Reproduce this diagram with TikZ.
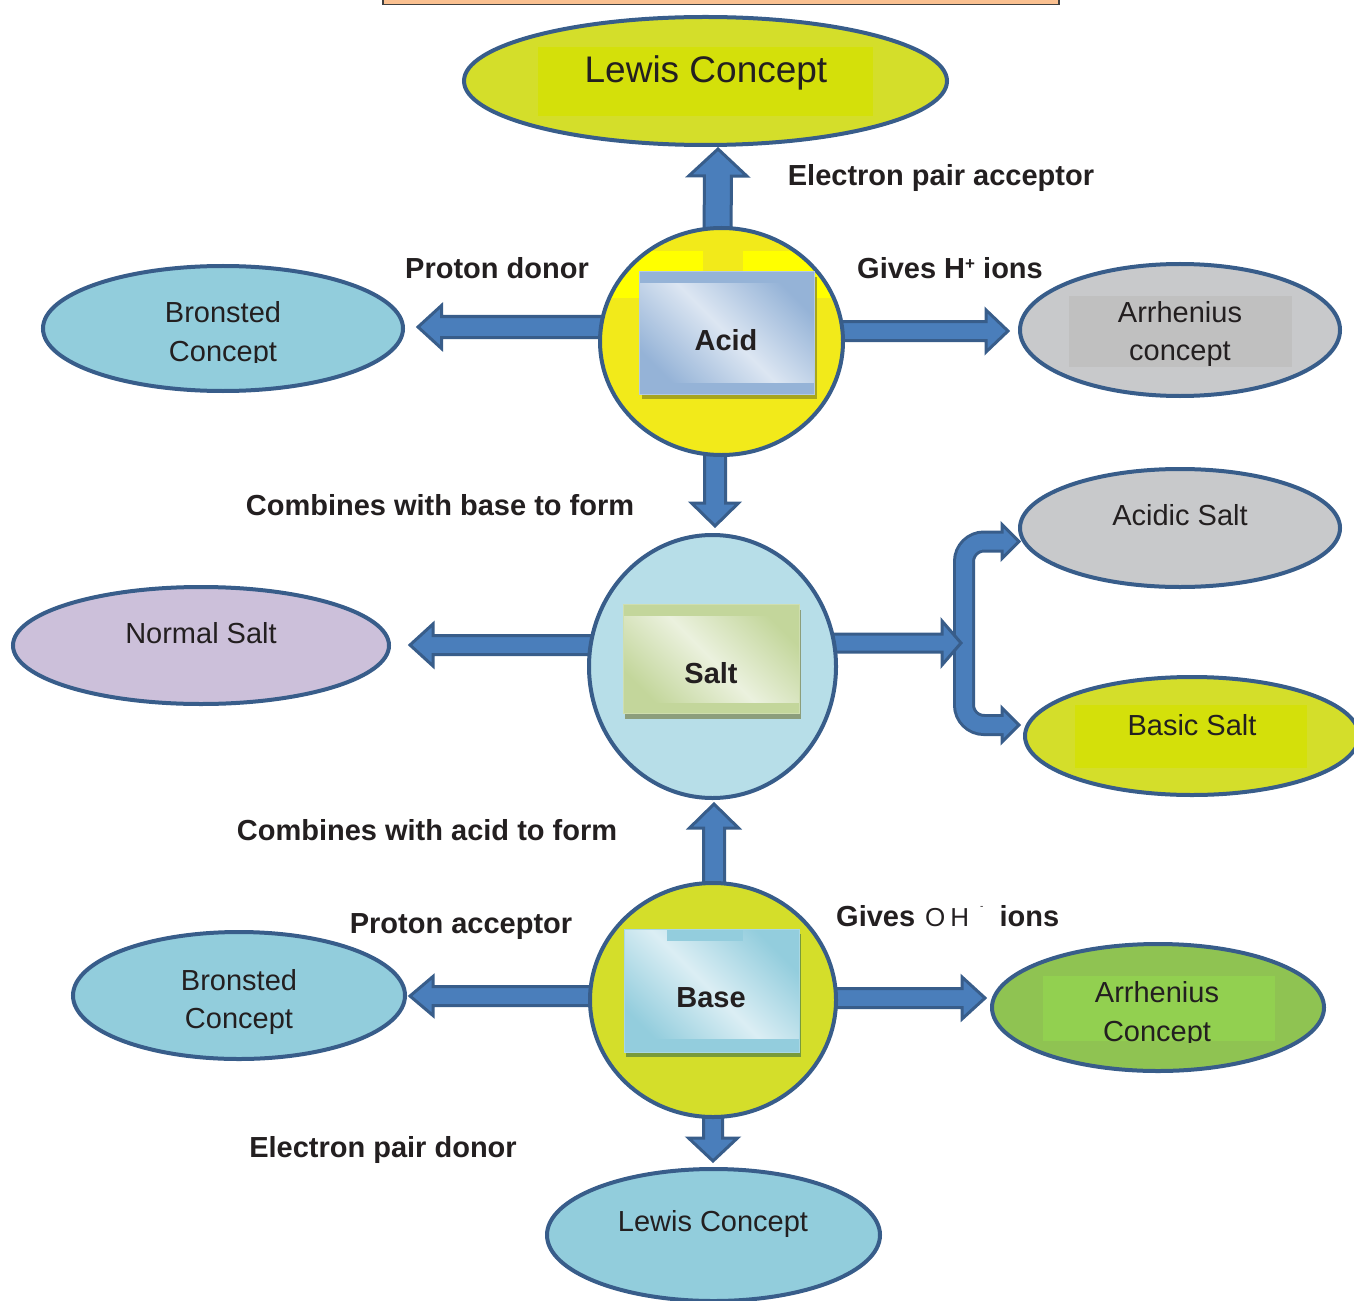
\documentclass[tikz,border=0pt]{standalone}
\usepackage{fontspec}
\setmainfont{Liberation Sans}
\usetikzlibrary{shapes.geometric,calc,shadows}
\pgfdeclarelayer{connectors}
\pgfsetlayers{connectors,main}

% outlines, arrows, text
\definecolor{rim}{HTML}{385D8A}
\definecolor{shaft}{HTML}{4A7EBB}
\definecolor{ink}{HTML}{231F20}
\definecolor{banner}{HTML}{FAC090}
% fills
\definecolor{lime}{HTML}{D4DE2A}
\definecolor{limeHi}{HTML}{D4E00A}
\definecolor{sun}{HTML}{F2EA1A}
\definecolor{sunHi}{HTML}{FFFF00}
\definecolor{sky}{HTML}{92CDDC}
\definecolor{ice}{HTML}{B7DEE8}
\definecolor{fog}{HTML}{C8C9CB}
\definecolor{fogLo}{HTML}{C0C0C0}
\definecolor{lilac}{HTML}{CCC0DA}
\definecolor{leaf}{HTML}{8FC352}
\definecolor{leafHi}{HTML}{92D050}
% inner cards
\definecolor{acidDk}{HTML}{95B3D7}
\definecolor{acidLt}{HTML}{DCE6F2}
\definecolor{acidSh}{HTML}{A8A51C}
\definecolor{saltDk}{HTML}{C3D69B}
\definecolor{saltLt}{HTML}{EBF1DE}
\definecolor{saltSh}{HTML}{8C9E7C}
\definecolor{baseDk}{HTML}{93CDDD}
\definecolor{baseLt}{HTML}{DBEEF4}
\definecolor{baseSh}{HTML}{789A3A}

% block arrow: start, tip, shaft half width, head half width, head length
\newcommand\blockarrow[5]{%
  \coordinate (ba-s) at (#1);
  \coordinate (ba-t) at (#2);
  \coordinate (ba-h) at ($(ba-t)!#5!(ba-s)$);
  \filldraw[arrowbody]
    ($(ba-s)!#3!90:(ba-t)$) -- ($(ba-h)!#3!90:(ba-t)$) -- ($(ba-h)!#4!90:(ba-t)$)
    -- (ba-t) -- ($(ba-h)!#4!-90:(ba-t)$) -- ($(ba-h)!#3!-90:(ba-t)$)
    -- ($(ba-s)!#3!-90:(ba-t)$) -- cycle;
}

\begin{document}
\begin{tikzpicture}[x=1bp,y=-1bp,
  oval/.style={ellipse, draw=rim, line width=4bp, inner sep=0pt},
  txt/.style={font=\fontsize{29bp}{35bp}\selectfont, text=ink, inner sep=0pt, anchor=base},
  tag/.style={txt, font=\fontsize{29bp}{35bp}\selectfont\bfseries},
  arrowbody/.style={fill=shaft, draw=rim, line width=3bp, line join=miter},
  card/.style={rectangle, inner sep=0pt, line width=1bp},
]
\useasboundingbox (0,0) rectangle (1354,1301);

% title strip at the top edge
\filldraw[fill=banner, draw=black!75, line width=1.5bp] (383,-10) rectangle (1059,4.5);
\coordinate (bannerEdge) at (721,4.5);

% ---- ovals ----
\node[oval, fill=lime, minimum width=483bp, minimum height=128bp,
  path picture={\fill[limeHi] ([shift={(-167.5,-34)}]path picture bounding box.center)
    rectangle ([shift={(167.5,35)}]path picture bounding box.center);}]
  (lewisTop) at (705.5,81) {};
\node[oval, fill=sky, minimum width=360bp, minimum height=125bp] (bronTop) at (223,328.5) {};
\node[oval, fill=fog, minimum width=320bp, minimum height=132bp,
  path picture={\fill[fogLo] ([shift={(-111,-34)}]path picture bounding box.center)
    rectangle ([shift={(112,37)}]path picture bounding box.center);}]
  (arrTop) at (1180,330) {};
\node[oval, fill=lilac, minimum width=376bp, minimum height=117bp] (normal) at (201,645.5) {};
\node[oval, fill=fog, minimum width=320bp, minimum height=118bp] (acidic) at (1180,528) {};
\node[oval, fill=lime, minimum width=334bp, minimum height=118bp,
  path picture={\fill[limeHi] ([shift={(-117,-31)}]path picture bounding box.center)
    rectangle ([shift={(115,32)}]path picture bounding box.center);}]
  (basic) at (1192,736) {};
\node[oval, fill=sky, minimum width=332bp, minimum height=127bp] (bronBot) at (239,995.5) {};
\node[oval, fill=leaf, minimum width=332bp, minimum height=127bp,
  path picture={\fill[leafHi] ([shift={(-115,-32)}]path picture bounding box.center)
    rectangle ([shift={(117,33)}]path picture bounding box.center);}]
  (arrBot) at (1158,1007.5) {};
\node[oval, fill=sky, minimum width=333bp, minimum height=132bp] (lewisBot) at (713.5,1235) {};

% ---- central circles ----
\node[oval, fill=sun, minimum width=243bp, minimum height=227bp,
  path picture={
    \fill[sunHi] ([shift={(-122,-90.5)}]path picture bounding box.center)
      rectangle ([shift={(-18.5,-43.5)}]path picture bounding box.center);
    \fill[sunHi] ([shift={(21.5,-90.5)}]path picture bounding box.center)
      rectangle ([shift={(123.5,-43.5)}]path picture bounding box.center);}]
  (acid) at (721.5,341.5) {};
\node[oval, fill=ice, minimum width=247bp, minimum height=263bp] (salt) at (712.5,666.5) {};
\node[oval, fill=lime, minimum width=246bp, minimum height=234bp] (base) at (713,1000) {};

% ---- cards inside the circles ----
\node[card, minimum width=175bp, minimum height=122bp, draw=acidDk!70!white,
  left color=acidDk, right color=acidDk, middle color=acidLt, shading angle=-45,
  drop shadow={shadow xshift=3bp, shadow yshift=-5bp, fill=acidSh, opacity=1},
  path picture={
    \fill[acidDk] (path picture bounding box.north west) rectangle ([yshift=-11bp]path picture bounding box.north east);
    \fill[acidDk] (path picture bounding box.south west) rectangle ([yshift=11bp]path picture bounding box.south east);}]
  (acidCard) at (726.5,333) {};
\node[card, minimum width=176bp, minimum height=109bp, draw=saltDk!80!white,
  left color=saltDk, right color=saltDk, middle color=saltLt, shading angle=-45,
  drop shadow={shadow xshift=2bp, shadow yshift=-6bp, fill=saltSh, opacity=1},
  path picture={
    \fill[saltDk] (path picture bounding box.north west) rectangle ([yshift=-12bp]path picture bounding box.north east);
    \fill[saltDk] (path picture bounding box.south west) rectangle ([yshift=10bp]path picture bounding box.south east);}]
  (saltCard) at (711,658.5) {};
\node[card, minimum width=175bp, minimum height=123bp, draw=baseDk!80!white,
  left color=baseDk, right color=baseDk, middle color=baseLt, shading angle=-45,
  drop shadow={shadow xshift=2bp, shadow yshift=-5bp, fill=baseSh, opacity=1},
  path picture={
    \fill[baseDk] ([xshift=43bp]path picture bounding box.north west) rectangle ([xshift=119bp,yshift=-12bp]path picture bounding box.north west);
    \fill[baseDk] (path picture bounding box.south west) rectangle ([yshift=13bp]path picture bounding box.south east);}]
  (baseCard) at (711.5,990.5) {};

% ---- connectors, beneath the shapes ----
\coordinate (fork) at (964,643);
\coordinate (forkA) at ($(acidic.west)+(1,13.5)$);
\coordinate (forkB) at ($(basic.west)+(-4,-11)$);
\begin{pgfonlayer}{connectors}
  % split bar towards the two salt kinds
  \draw[rim, line width=22bp, rounded corners=20bp]
    ($(forkA)+(-16,0)$) -- (fork |- forkA) -- (fork |- forkB) -- ($(forkB)+(-16,0)$);
  \filldraw[arrowbody] ($(forkA)+(-17,-17)$) -- (forkA) -- ($(forkA)+(-17,17)$) -- cycle;
  \filldraw[arrowbody] ($(forkB)+(-17,-17)$) -- (forkB) -- ($(forkB)+(-17,17)$) -- cycle;
  \draw[shaft, line width=16bp, rounded corners=20bp]
    ($(forkA)+(-15,0)$) -- (fork |- forkA) -- (fork |- forkB) -- ($(forkB)+(-15,0)$);

  \blockarrow{$(acid.north)+(-4,30)$}{$(lewisTop.south)+(12.5,2)$}{13.5bp}{29bp}{27bp}
  \blockarrow{$(acid.west)+(20,-14.5)$}{$(bronTop.east)+(13,-1.5)$}{10.5bp}{21.5bp}{23.5bp}
  \blockarrow{$(acid.east)+(-20,-10.5)$}{$(arrTop.west)+(-10,1)$}{9.5bp}{21bp}{22bp}
  \blockarrow{$(acid.south)+(-6.5,-15)$}{$(salt.north)+(2.5,-7)$}{10.5bp}{23.5bp}{23bp}
  \blockarrow{$(salt.west)+(21,-21.5)$}{$(normal.east)+(19,-0.5)$}{9.5bp}{21bp}{23bp}
  \blockarrow{$(salt.east)+(-20,-23.5)$}{$(fork)+(-3,0)$}{9bp}{22bp}{19bp}
  \blockarrow{$(base.north)+(1,12)$}{$(salt.south)+(1.5,4)$}{10.5bp}{24.5bp}{24bp}
  \blockarrow{$(base.west)+(20,-4)$}{$(bronBot.east)+(3,0.5)$}{9.5bp}{19.5bp}{23bp}
  \blockarrow{$(base.east)+(-20,-2)$}{$(arrBot.west)+(-5,-9.5)$}{9.5bp}{21bp}{23bp}
  \blockarrow{$(base.south)+(0,-12)$}{$(lewisBot.north)+(-0.5,-6)$}{9.5bp}{24.5bp}{23bp}
\end{pgfonlayer}

% ---- texts in the shapes ----
\node[txt, font=\fontsize{37bp}{40bp}\selectfont] (tLewisTop) at (706,83) {Lewis Concept};
\node[txt] (tBronTop1) at (223,323) {Bronsted};
\begin{scope}
  \clip (100,330) rectangle (350,362);
  \node[txt] (tBronTop2) at (223,361) {Concept};
\end{scope}
\node[txt] (tArrTop1) at (1180,323) {Arrhenius};
\node[txt] (tArrTop2) at (1180,360) {concept};
\node[tag] (tAcid) at (726,350) {Acid};
\node[txt] (tAcidic) at (1180,525) {Acidic Salt};
\node[txt] (tNormal) at (201,643) {Normal Salt};
\node[tag] (tSalt) at (711,683) {Salt};
\node[txt] (tBasic) at (1192,735) {Basic Salt};
\node[tag] (tBase) at (711,1007) {Base};
\node[txt] (tBronBot1) at (239,990) {Bronsted};
\node[txt] (tBronBot2) at (239,1028) {Concept};
\node[txt] (tArrBot1) at (1157,1002) {Arrhenius};
\begin{scope}
  \clip (1040,1008) rectangle (1280,1042);
  \node[txt] (tArrBot2) at (1157,1041) {Concept};
\end{scope}
\node[txt] (tLewisBot) at (713,1231) {Lewis Concept};

% ---- connector labels ----
\node[tag] (lAcceptor) at (941,186) {Electron pair acceptor};
\node[tag] (lDonor) at (497,279) {Proton donor};
\node[tag] (lHplus) at (950,279) {Gives H\raisebox{9bp}{\fontsize{17bp}{17bp}\selectfont +} ions};
\node[tag] (lWithBase) at (440,515) {Combines with base to form};
\node[tag] (lWithAcid) at (427,840) {Combines with acid to form};
\node[tag] (lPAcceptor) at (461,933) {Proton acceptor};
\node[tag, anchor=base west] (lOH) at (836,926)
  {Gives\hspace{10bp}{\mdseries\fontsize{26bp}{26bp}\selectfont O\hspace{5bp}H\hspace{11bp}\raisebox{17bp}{\fontsize{10bp}{10bp}\selectfont -}}\hspace{16bp}ions};
\node[tag] (lEDonor) at (383,1157) {Electron pair donor};
\end{tikzpicture}
\end{document}
